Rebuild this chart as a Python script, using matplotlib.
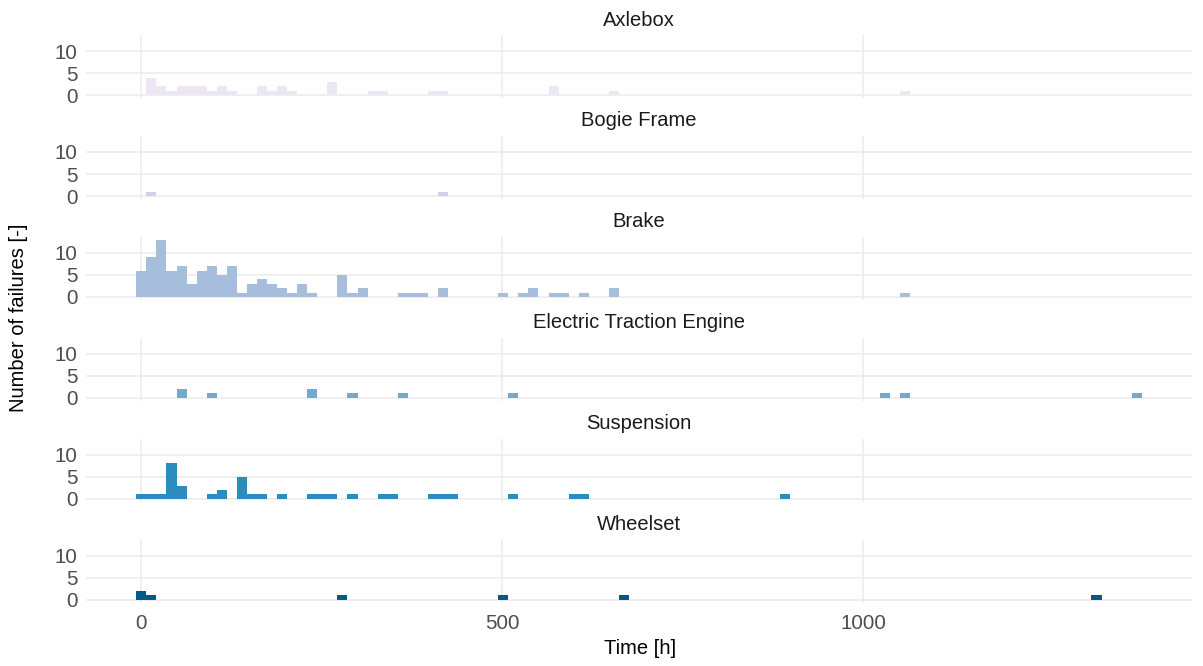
import matplotlib
matplotlib.use("Agg")
import matplotlib.pyplot as plt
import numpy as np

plt.rcParams["font.family"] = ["Liberation Sans", "DejaVu Sans"]

# histogram bin width in hours (100 bins over the observed time span)
BIN_W = 13.93

components = ["Axlebox", "Bogie Frame", "Brake",
              "Electric Traction Engine", "Suspension", "Wheelset"]
colors = ["#ECE7F2", "#D0D1E6", "#A6BDDB", "#74A9CF", "#2B8CBE", "#045A8D"]

# bin centres [h] and failure counts per component
axlebox_h = [14, 28, 42, 56, 70, 84, 98, 111, 125, 167, 181, 195, 209,
             265, 320, 334, 404, 418, 571, 655, 1059]
axlebox_n = [4, 2, 1, 2, 2, 2, 1, 2, 1, 2, 1, 2, 1,
             3, 1, 1, 1, 1, 2, 1, 1]

bogie_h = [14, 418]
bogie_n = [1, 1]

brake_h = [0, 14, 28, 42, 56, 70, 84, 98, 111, 125, 139, 153, 167, 181,
           195, 209, 223, 237, 279, 293, 306, 362, 376, 390, 418, 501,
           529, 543, 571, 585, 613, 655, 1059]
brake_n = [6, 9, 13, 6, 7, 3, 6, 7, 5, 7, 1, 3, 4, 3,
           2, 1, 3, 1, 5, 1, 2, 1, 1, 1, 2, 1,
           1, 2, 1, 1, 1, 2, 1]

engine_h = [56, 98, 237, 293, 362, 515, 1031, 1059, 1379]
engine_n = [2, 1, 2, 1, 1, 1, 1, 1, 1]

suspension_h = [0, 14, 28, 42, 56, 98, 111, 139, 153, 167, 195, 237, 251,
                265, 293, 334, 348, 404, 418, 432, 515, 599, 613, 892]
suspension_n = [1, 1, 1, 8, 3, 1, 2, 5, 1, 1, 1, 1, 1,
                1, 1, 1, 1, 1, 1, 1, 1, 1, 1, 1]

wheelset_h = [0, 14, 279, 501, 669, 1323]
wheelset_n = [2, 1, 1, 1, 1, 1]

hours = [axlebox_h, bogie_h, brake_h, engine_h, suspension_h, wheelset_h]
counts = [axlebox_n, bogie_n, brake_n, engine_n, suspension_n, wheelset_n]

W, H = 1203, 666
fig = plt.figure(figsize=(W / 100, H / 100), dpi=100)
fig.patch.set_facecolor("white")

left_px, right_px = 86, 1192
top0_px, panel_h_px, step_px = 35, 63, 100.9

x_lo, x_hi = -76.7, 1455.7
y_lo, y_hi = -0.65, 13.65
grid_col = "#EBEBEB"

for i, name in enumerate(components):
    top = top0_px + step_px * i
    ax = fig.add_axes([left_px / W, 1 - (top + panel_h_px) / H,
                       (right_px - left_px) / W, panel_h_px / H])
    ax.set_facecolor("white")
    # snap each time onto the bin grid so neighbouring bins touch exactly
    centres = np.round(np.asarray(hours[i]) / BIN_W) * BIN_W
    ax.bar(centres, counts[i], width=BIN_W, color=colors[i],
           linewidth=0, zorder=2)
    ax.set_xlim(x_lo, x_hi)
    ax.set_ylim(y_lo, y_hi)
    ax.set_xticks([0, 500, 1000])
    ax.set_yticks([0, 5, 10])
    ax.grid(True, color=grid_col, linewidth=1.1, zorder=0)
    ax.set_axisbelow(True)
    for s in ax.spines.values():
        s.set_visible(False)
    ax.tick_params(length=0, labelsize=14.8, labelcolor="#4D4D4D", pad=6)
    if i < len(components) - 1:
        ax.tick_params(labelbottom=False)
    else:
        ax.tick_params(axis="x", pad=8)
    # facet strip title
    fig.text((left_px + right_px) / 2 / W, 1 - (top - 15) / H, name,
             ha="center", va="center", fontsize=14.5, color="#1A1A1A")

fig.text(640 / W, 1 - 648 / H, "Time [h]", ha="center", va="center",
         fontsize=14.5, color="black")
fig.text(19 / W, 1 - 318 / H, "Number of failures [-]", ha="center",
         va="center", rotation=90, fontsize=14.5, color="black")

fig.savefig("out.png", dpi=100, facecolor="white")
